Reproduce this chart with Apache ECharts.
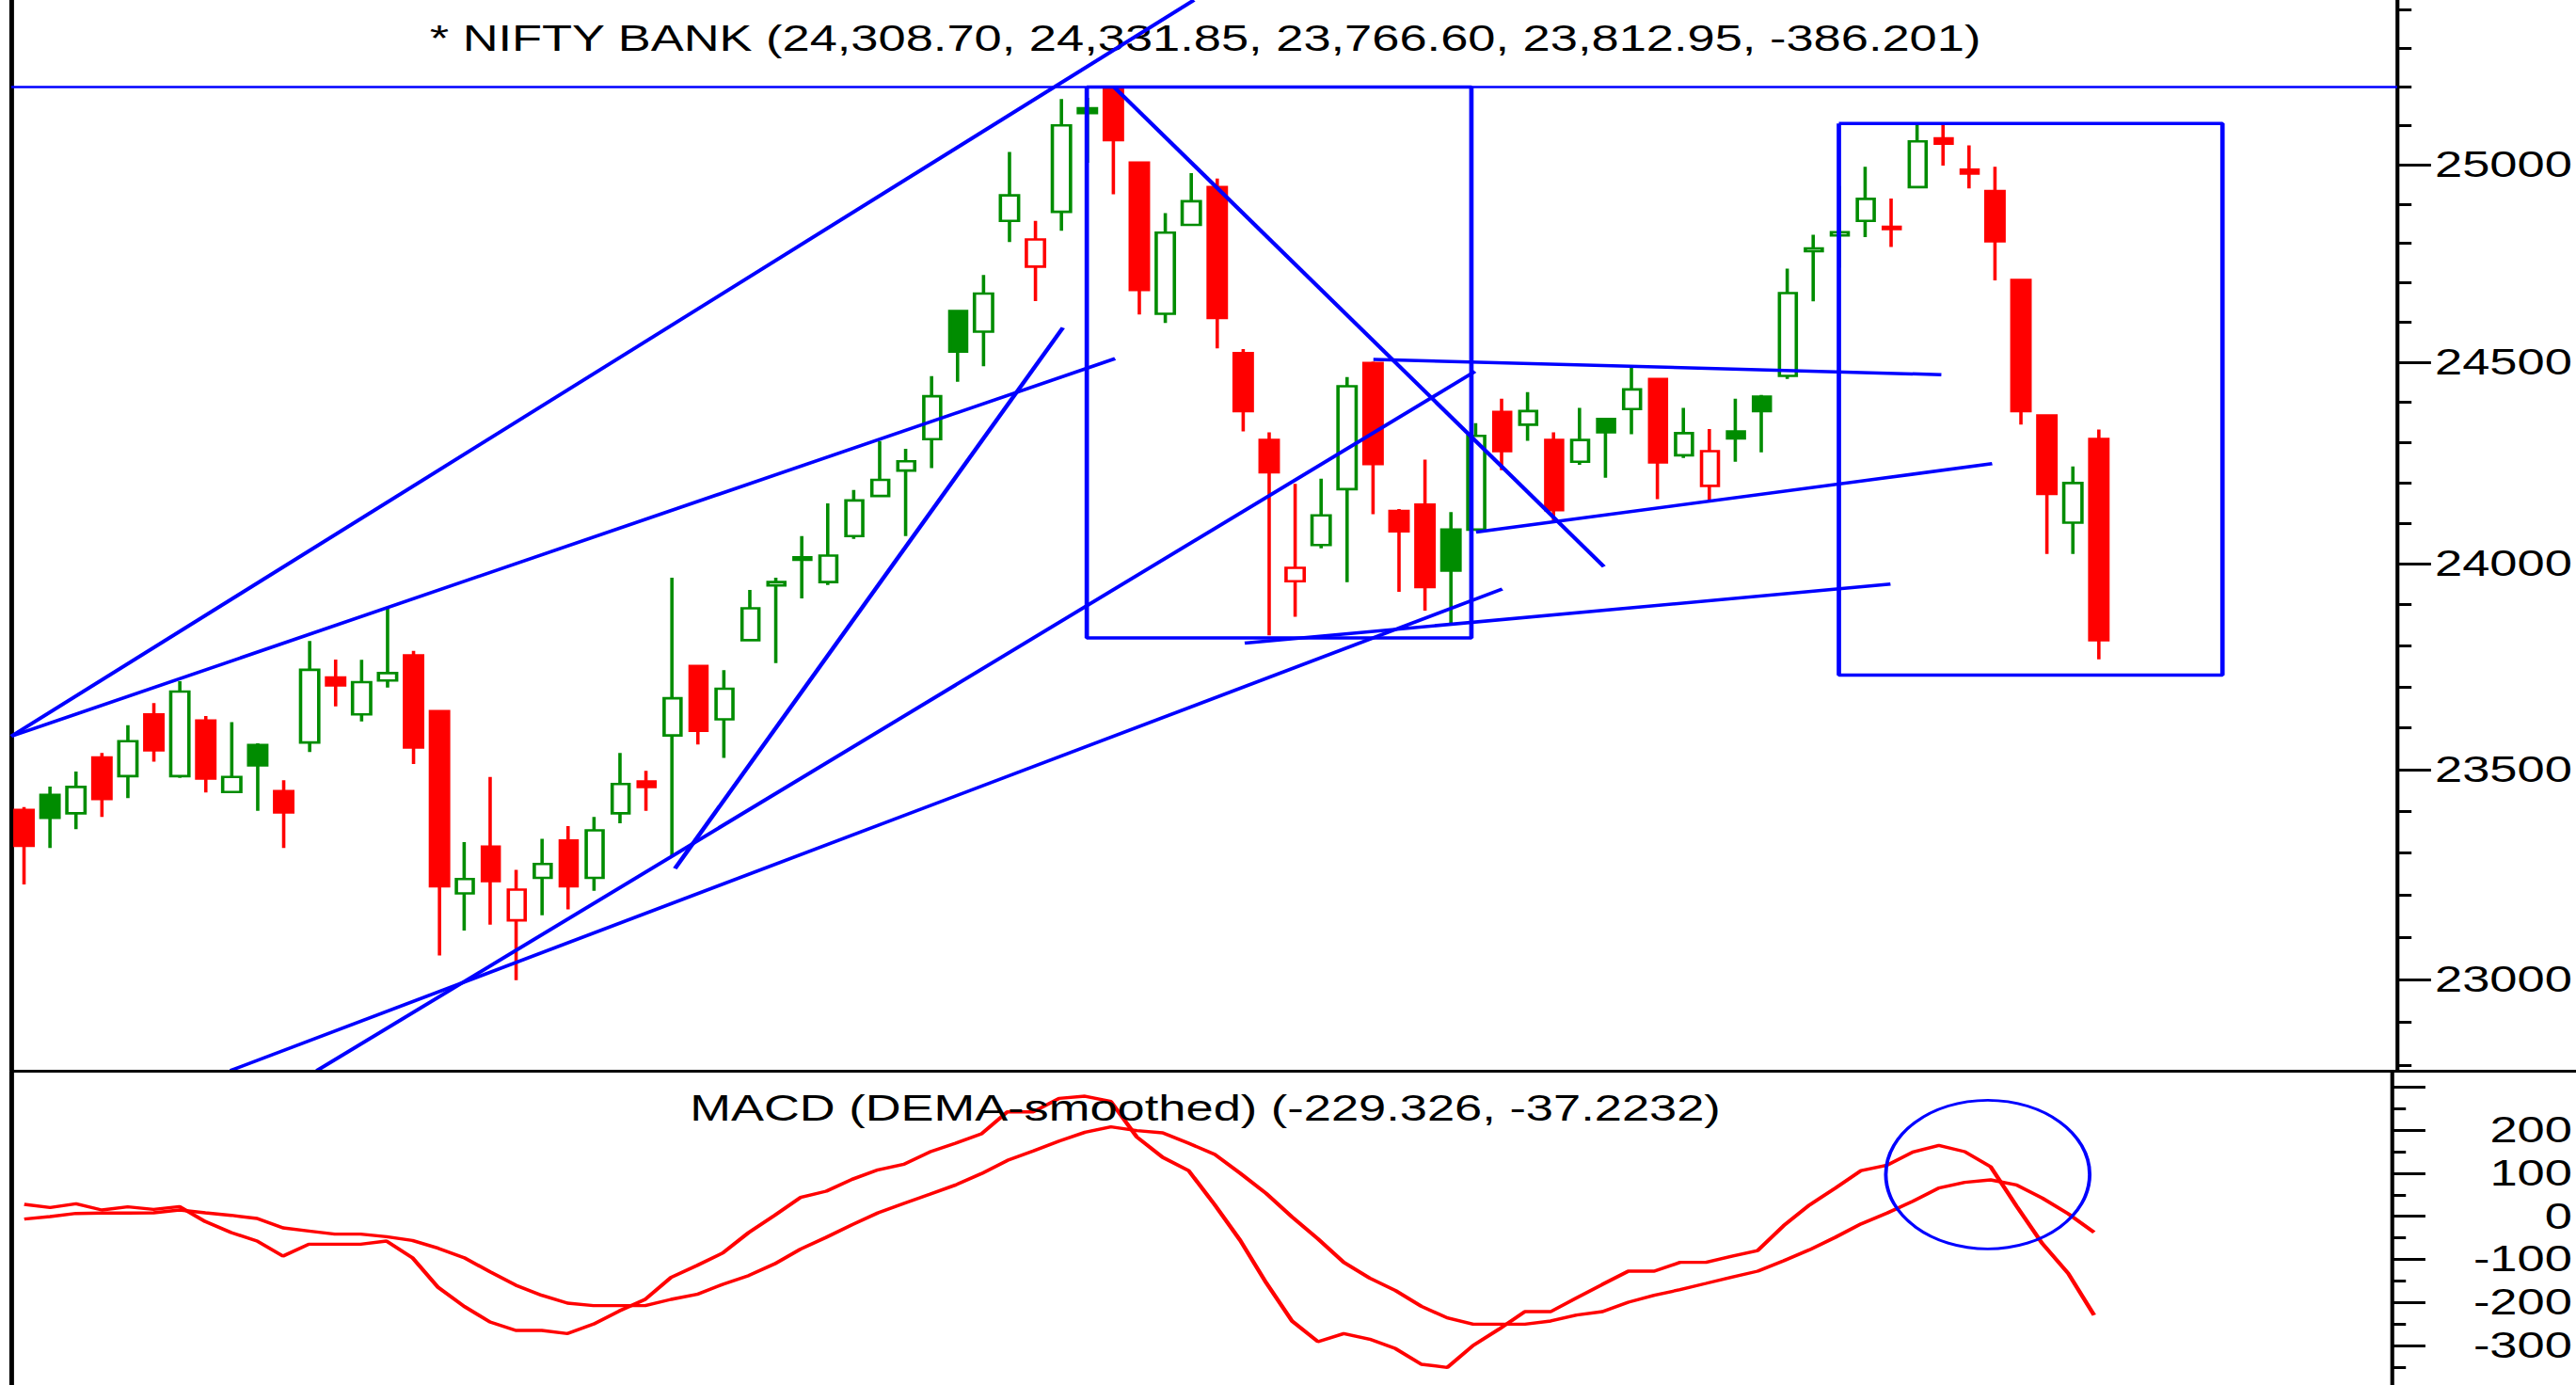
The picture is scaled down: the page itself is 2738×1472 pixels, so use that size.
<!DOCTYPE html>
<html>
<head>
<meta charset="utf-8">
<script src="https://cdn.jsdelivr.net/npm/echarts@6/dist/echarts.min.js"></script>
<style>
html,body{margin:0;padding:0;background:#fff;overflow:hidden;width:2738px;height:1472px;}
#chart{width:1984px;height:1472px;transform:scaleX(1.38004);transform-origin:0 0;}
</style>
</head>
<body>
<div id="chart"></div>
<script>
// ---------- data ----------
const categories = ["1","2","3","4","5","6","7","8","9","10","11","12","13","14","15","16","17","18","19","20",
"21","22","23","24","25","26","27","28","29","30","31","32","33","34","35","36","37","38","39","40",
"41","42","43","44","45","46","47","48","49","50","51","52","53","54","55","56","57","58","59","60",
"61","62","63","64","65","66","67","68","69","70","71","72","73","74","75","76","77","78","79","80",
"81","82","83","84","85","86","87","88","89","90","91","92"];

const opens  = [23403,23439,23395,23529,23484,23633,23484,23618,23446,23559,23448,23565,23722,23633,23715,23776,23641,23204,23315,23140,
23241,23330,23241,23395,23471,23582,23750,23621,23813,23947,24010,23955,24068,24167,24230,24308,24629,24577,24857,24741,
24880,25145,25193,25006,24622,24847,24943,24523,24306,23957,24046,24184,24498,24130,24146,24084,24084,24376,24344,24306,
24252,24358,24383,24458,24268,24192,24327,24414,24466,24780,24820,24857,24842,24943,25068,24988,24933,24707,24367,24101,24308.70];
const highs  = [23410,23459,23495,23540,23607,23660,23713,23629,23614,23563,23474,23811,23766,23765,23893,23787,23644,23326,23482,23260,
23334,23364,23386,23540,23497,23966,23752,23740,23936,23966,24068,24149,24182,24303,24284,24465,24631,24720,25033,24857,
25169,25172,25200,25008,24877,24979,24965,24533,24325,24197,24210,24463,24502,24135,24257,24127,24348,24409,24425,24325,
24386,24360,24493,24460,24386,24333,24409,24418,24736,24822,24946,24995,24914,25106,25106,25050,24995,24708,24368,24240,24331.85];
const lows   = [23225,23312,23357,23386,23431,23519,23480,23445,23444,23401,23312,23542,23652,23616,23698,23513,23057,23116,23130,22999,
23152,23166,23210,23371,23401,23292,23560,23528,23811,23757,23915,23948,24061,24165,24068,24236,24451,24490,24803,24654,
24832,25005,24925,24620,24599,24845,24535,24327,23825,23870,24038,23955,24122,23931,23885,23853,24082,24231,24304,24107,
24244,24212,24320,24159,24261,24157,24252,24275,24458,24653,24738,24816,24791,24941,24998,24940,24706,24344,24024,24024,23766.60];
const closes = [23317,23384,23458,23429,23568,23546,23688,23478,23482,23510,23397,23741,23703,23711,23733,23553,23221,23238,23233,23213,
23274,23221,23354,23465,23458,23672,23593,23695,23891,23955,24016,24020,24156,24207,24253,24415,24527,24673,24922,24810,
25101,25133,25063,24682,24827,24907,24611,24378,24226,23990,24119,24440,24246,24080,23943,23983,24316,24278,24378,24132,
24306,24325,24432,24250,24323,24278,24310,24378,24674,24787,24828,24913,24836,25060,25054,24978,24805,24378,24172,24199.15,23812.95];
const closeBeforeFirst = 23450;

const macdValues = [27.7,20.4,29.2,14.6,21.9,16.1,22.6,-12.3,-37.8,-57.4,-92.4,-64.7,-64.7,-64.7,-57.4,-96.0,-165.1,-208.8,-245.2,-264.9,
-264.9,-272.1,-250.3,-219.7,-192.8,-141.8,-114.2,-85.1,-37.8,2.2,43.7,58.3,85.9,107.8,120.9,149.3,169.6,191.5,242.4,242.4,
273.7,278.8,266.4,184.2,136.9,106.3,27.7,-56.0,-154.2,-243.0,-291.0,-272.1,-285.2,-307.1,-343.4,-350.7,-299.8,-261.9,-221.2,-221.2,
-189.2,-157.9,-127.3,-127.3,-106.9,-106.9,-92.4,-79.3,-21.8,26.2,65.6,106.3,118.7,149.3,164.5,150.0,115.1,24.1,-63.2,-132.4,-229.326];
const signalValues = [-6.5,-0.7,6.6,7.4,7.4,8.1,14.6,8.1,2.2,-5.0,-26.9,-34.1,-41.4,-41.4,-47.2,-56.0,-74.2,-96.0,-128.8,-160.0,
-183.3,-201.5,-207.3,-207.3,-207.3,-192.8,-181.1,-157.9,-137.5,-110.5,-76.3,-48.7,-19.6,8.1,29.9,51.0,72.8,99.1,129.6,151.5,
174.7,195.1,207.5,198.8,193.7,169.6,144.2,99.8,53.2,-1.4,-52.3,-106.9,-143.3,-172.4,-208.8,-235.7,-250.3,-250.3,-250.3,-243.0,
-229.2,-221.2,-199.3,-183.3,-170.2,-155.7,-141.1,-127.3,-103.3,-77.8,-48.7,-17.4,7.4,35.0,65.6,78.7,84.5,72.8,42.3,5.9,-37.2232];

// tick values
const priceMinorTicks = [22800,22900,23000,23100,23200,23300,23400,23500,23600,23700,23800,23900,24000,24100,24200,24300,24400,24500,24600,24700,24800,24900,25000,25100,25200,25300,25400];
const priceMajorTicks = [23000,23500,24000,24500,25000];
const macdMinorTicks = [-350,-300,-250,-200,-150,-100,-50,0,50,100,150,200,250,300];
const macdMajorTicks = [-300,-200,-100,0,100,200,300];
const macdLabelTicks = [-300,-200,-100,0,100,200];

// axis ranges
const PRICE_MIN = 22786.6, PRICE_MAX = 25425.3;
const MACD_MIN = -391.5, MACD_MAX = 335.6;

// drawn annotations, in (slot index, value)
const trendLines = [
  [[-0.5, 23580], [45.10, 25425]],
  [[-0.5, 23580], [42.06, 24509]],
  [[25.09, 23263], [40.05, 24587]],
  [[7.95, 22787], [56.99, 23938]],
  [[11.28, 22787], [55.94, 24477]],
  [[42.02, 25200], [60.91, 23993]],
  [[52.02, 24507], [73.92, 24469]],
  [[55.98, 24078], [75.88, 24247]],
  [[47.06, 23806], [71.96, 23950]]
];
const resistanceLine = [[-0.5, 25200], [91.5, 25200]];
const boxes = [
  [[40.97, 25200], [55.80, 25200], [55.80, 23818.6], [40.97, 23818.6], [40.97, 25200]],
  [[69.97, 25105.9], [84.76, 25105.9], [84.76, 23728.2], [69.97, 23728.2], [69.97, 25105.9]]
];
const macdEllipse = [[75.89, 96.9, 3.94, 172.5]];

const mainTitle = '* NIFTY BANK (24,308.70, 24,331.85, 23,766.60, 23,812.95, -386.201)';
const macdTitle = 'MACD (DEMA-smoothed) (-229.326, -37.2232)';

// ---------- chart ----------
const GREEN = '#008c00', RED = '#ff0000', BLUE = '#0000ff';
const FONT = "'Liberation Sans', Arial, sans-serif";

// split candles by colour (close vs previous close); hollow/filled follows close vs open
const greenCandles = [], redCandles = [];
opens.forEach((o, i) => {
  const prev = i === 0 ? closeBeforeFirst : closes[i - 1];
  const v = [o, closes[i], lows[i], highs[i]];
  if (closes[i] >= prev) { greenCandles.push(v); redCandles.push('-'); }
  else { redCandles.push(v); greenCandles.push('-'); }
});

function candleSeries(data, col) {
  return {
    type: 'candlestick', xAxisIndex: 0, yAxisIndex: 0, data: data,
    barWidth: 14, z: 2, animation: false, silent: true,
    itemStyle: { color: '#ffffff', color0: col, borderColor: col, borderColor0: col, borderWidth: 2.6 }
  };
}

const GL = 8.7, GR = 136.2;
const axisBase = { axisLine: { show: false, onZero: false }, splitLine: { show: false } };

function blueLine(data, width) {
  return {
    type: 'line', xAxisIndex: 1, yAxisIndex: 0, data: data, symbol: 'none',
    lineStyle: { color: BLUE, width: width }, z: 5, silent: true, animation: false, clip: true
  };
}

const series = [candleSeries(greenCandles, GREEN), candleSeries(redCandles, RED)];
trendLines.forEach(l => series.push(blueLine(l, 3.5)));
series.push(blueLine(resistanceLine, 2.4));
boxes.forEach(b => series.push(blueLine(b, 3.4)));
series.push({
  type: 'line', xAxisIndex: 2, yAxisIndex: 3, data: macdValues, symbol: 'none',
  lineStyle: { color: RED, width: 3.4 }, z: 3, animation: false, silent: true
});
series.push({
  type: 'line', xAxisIndex: 2, yAxisIndex: 3, data: signalValues, symbol: 'none',
  lineStyle: { color: RED, width: 3.4 }, z: 3, animation: false, silent: true
});
series.push({
  type: 'custom', xAxisIndex: 3, yAxisIndex: 3, data: macdEllipse, z: 6, animation: false, silent: true,
  encode: { x: 0, y: 1 },
  renderItem: function (params, api) {
    const c = api.coord([api.value(0), api.value(1)]);
    const s = api.size([api.value(2), api.value(3)], [api.value(0), api.value(1)]);
    return {
      type: 'ellipse',
      shape: { cx: c[0], cy: c[1], rx: s[0], ry: s[1] },
      style: { fill: null, stroke: BLUE, lineWidth: 2.8 }
    };
  }
});

const option = {
  animation: false,
  backgroundColor: '#ffffff',
  grid: [
    { left: GL, right: GR, top: 0, height: 1138 },
    { left: GL, right: GR, top: 1139, height: 333 }
  ],
  xAxis: [
    { type: 'category', gridIndex: 0, data: categories, show: false, boundaryGap: true },
    { type: 'value', gridIndex: 0, min: -0.5, max: 91.5, show: false },
    { type: 'category', gridIndex: 1, data: categories, show: false, boundaryGap: true },
    { type: 'value', gridIndex: 1, min: -0.5, max: 91.5, show: false }
  ],
  yAxis: [
    Object.assign({}, axisBase, {
      type: 'log', logBase: 10, gridIndex: 0, position: 'right', min: PRICE_MIN, max: PRICE_MAX,
      axisLine: { show: true, onZero: false, lineStyle: { color: '#000', width: 3 } },
      axisTick: { show: true, inside: false, length: 11, lineStyle: { color: '#000', width: 3 }, customValues: priceMinorTicks },
      axisLabel: { show: false }
    }),
    Object.assign({}, axisBase, {
      type: 'log', logBase: 10, gridIndex: 0, position: 'right', min: PRICE_MIN, max: PRICE_MAX,
      axisTick: { show: true, inside: false, length: 26, lineStyle: { color: '#000', width: 3 }, customValues: priceMajorTicks },
      axisLabel: {
        show: true, customValues: priceMajorTicks, margin: 29, align: 'left',
        fontSize: 38, fontFamily: FONT, color: '#000', padding: [10, 0, 0, 0],
        formatter: function (v) { return String(Math.round(v)); }
      }
    }),
    Object.assign({}, axisBase, {
      type: 'value', gridIndex: 0, position: 'left', min: 0, max: 1,
      axisLine: { show: true, onZero: false, lineStyle: { color: '#000', width: 3.6 } },
      axisTick: { show: false }, axisLabel: { show: false }
    }),
    Object.assign({}, axisBase, {
      type: 'value', gridIndex: 1, position: 'right', min: MACD_MIN, max: MACD_MAX,
      axisLine: { show: true, onZero: false, lineStyle: { color: '#000', width: 3 } },
      axisTick: { show: true, inside: false, length: 11, lineStyle: { color: '#000', width: 3 }, customValues: macdMinorTicks },
      axisLabel: { show: false }
    }),
    Object.assign({}, axisBase, {
      type: 'value', gridIndex: 1, position: 'right', min: MACD_MIN, max: MACD_MAX,
      axisTick: { show: true, inside: false, length: 26, lineStyle: { color: '#000', width: 3 }, customValues: macdMajorTicks },
      axisLabel: {
        show: true, customValues: macdLabelTicks, margin: 139, align: 'right',
        fontSize: 38, fontFamily: FONT, color: '#000', padding: [10, 0, 0, 0],
        formatter: function (v) { return String(Math.round(v)); }
      }
    }),
    Object.assign({}, axisBase, {
      type: 'value', gridIndex: 1, position: 'left', min: 0, max: 1,
      axisLine: { show: true, onZero: false, lineStyle: { color: '#000', width: 3.6 } },
      axisTick: { show: false }, axisLabel: { show: false }
    })
  ],
  graphic: [
    {
      type: 'line', z: 10, silent: true,
      shape: { x1: GL, y1: 1138.5, x2: 1984, y2: 1138.5 },
      style: { stroke: '#000', lineWidth: 3 }
    },
    {
      type: 'text', x: 928.25, y: 41, z: 4, silent: true,
      style: { text: mainTitle, fontSize: 38, fontFamily: FONT, fill: '#000', align: 'center', verticalAlign: 'middle' }
    },
    {
      type: 'text', x: 928.25, y: 1178, z: 4, silent: true,
      style: { text: macdTitle, fontSize: 38, fontFamily: FONT, fill: '#000', align: 'center', verticalAlign: 'middle' }
    }
  ],
  series: series
};

const chart = echarts.init(document.getElementById('chart'), null, { renderer: 'svg', width: 1984, height: 1472 });
chart.setOption(option);
</script>
</body>
</html>
